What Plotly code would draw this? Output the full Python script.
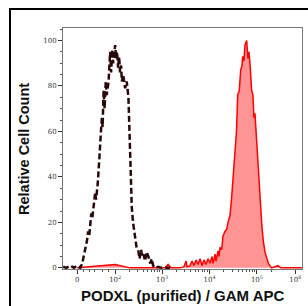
import numpy as np
import plotly.graph_objects as go

# Isotype / negative control histogram (fluorescence intensity, relative count)
ctrl_intensity = [-24, -18, -11, -5, 0, 5, 8, 10, 13, 16, 18, 20, 22, 24, 26, 28, 32, 34, 38, 42,
                  44, 47, 49, 51, 54, 57, 61, 64, 71, 73, 77, 81, 86, 90, 95, 100, 105, 110, 116,
                  122, 128, 135, 140, 149, 165, 178, 194, 200, 210, 215, 221, 228, 243, 268, 289,
                  315, 334, 360, 379, 404, 438, 471, 514, 559, 608, 647, 712, 825, 1001, 1476]
ctrl_count = [0.5, 0, 1, 0, 1, 0, 2, 4.5, 8, 12, 16, 14, 19, 24, 22, 27, 33, 30, 37, 48,
              56, 62, 66, 62, 78, 70, 82, 76, 82, 88, 95, 86, 96, 90, 94, 98, 92, 95, 88,
              93, 86, 89, 82, 85, 79, 82, 75, 62, 56, 45, 37, 27, 20, 13, 9,
              7.5, 4, 8, 5, 6, 3, 7, 5, 2, 4, 1, 0, 0.5, 0, 0]

# PODXL stained histogram
podxl_intensity = [0, 100, 210, 559, 1158, 1339, 1550, 2395, 2909, 3205, 3364, 3890, 4287, 4723,
                   5204, 5735, 6320, 6964, 7673, 8448, 9308, 10257, 11304, 11872, 13085, 13729,
                   15126, 15887, 16661, 18096, 19273, 21240, 23057, 24553, 27053, 29105, 31750,
                   33640, 34480, 37080, 39300, 42480, 45470, 48425, 50080, 53330, 55970, 60800,
                   64770, 67960, 71370, 74880, 77480, 82520, 86580, 90900, 98700, 106700, 110400,
                   115900, 121650, 127700, 136000, 147700, 160300, 174900, 188200, 204500,
                   240000, 277500, 320800, 496600, 887000]
podxl_count = [0, 1.5, 0, 0, 0, 1.5, 0, 0, 0.5, 3, 0.5, 1, 3, 1,
               3.5, 1.5, 4, 1, 3.5, 1.5, 4, 2, 5, 2, 6, 3,
               7.5, 5, 9, 8, 14, 16, 17, 20, 23, 30, 41,
               47, 52, 60, 76, 78, 87, 89, 93, 91, 98, 100,
               92, 95, 90, 84, 78, 76, 66, 68, 55, 47, 40,
               32, 25, 18, 12, 7, 4.5, 2, 1, 0,
               0.5, 1, 0, 0, 0]

x_tick_values = [0, 1e2, 1e3, 1e4, 1e5]
x_tick_labels = ["0", "10<sup>2</sup>", "10<sup>3</sup>", "10<sup>4</sup>", "10<sup>5</sup>", "10<sup>6</sup>"]
y_tick_values = [0, 20, 40, 60, 80, 100]

LINEAR_WIDTH = 32.5


def logicle(v):
    v = np.asarray(v, dtype=float)
    return np.arcsinh(v / LINEAR_WIDTH) / np.log(10)


ticks_pos = list(logicle(x_tick_values)) + [4.6]
minor_pos = []
for d in [1e2, 1e3, 1e4]:
    for m in range(2, 10):
        minor_pos.append(float(logicle(m * d)))
for m in range(2, 3):
    minor_pos.append(float(logicle(m * 1e5)))
minor_pos += [float(logicle(v)) for v in [10, 20, 30, 50, 70]]

fig = go.Figure()
fig.add_trace(go.Scatter(
    x=logicle(podxl_intensity), y=podxl_count, mode="lines",
    line=dict(color="#ff0000", width=1.5), fill="tozeroy",
    fillcolor="rgba(255,0,0,0.42)", hoverinfo="skip"))
fig.add_trace(go.Scatter(
    x=logicle(ctrl_intensity), y=ctrl_count, mode="lines",
    line=dict(color="#2a0808", width=2.5, dash="6px,3px"), hoverinfo="skip"))

tickfont = dict(family="DejaVu Serif", size=7, color="#333")
fig.update_layout(
    width=308, height=306,
    margin=dict(l=63, r=6, t=28, b=37),
    paper_bgcolor="white", plot_bgcolor="white",
    showlegend=False,
    xaxis=dict(range=[-0.3, 4.74], tickmode="array", tickvals=ticks_pos, ticktext=x_tick_labels,
               ticks="outside", ticklen=4, tickcolor="#333", tickfont=tickfont,
               showgrid=False, zeroline=False, showline=True, linecolor="#777", linewidth=1,
               mirror=True,
               minor=dict(tickmode="array", tickvals=minor_pos, ticks="outside", ticklen=2,
                          tickcolor="#555", showgrid=False)),
    yaxis=dict(range=[-0.5, 105.5], tickmode="array", tickvals=y_tick_values,
               ticks="outside", ticklen=4, tickcolor="#333", tickfont=tickfont,
               showgrid=False, zeroline=False, showline=True, linecolor="#777", linewidth=1,
               mirror=True,
               minor=dict(dtick=5, ticks="outside", ticklen=2, tickcolor="#555", showgrid=False)),
)

fig.add_annotation(text="<b>Relative Cell Count</b>", xref="paper", yref="paper",
                   x=(24 - 63) / 239, y=(269 - 149) / 241, textangle=-90, showarrow=False,
                   font=dict(family="Liberation Sans", size=14.5, color="#111"),
                   xanchor="center", yanchor="middle")
fig.add_annotation(text="<b>PODXL (purified) / GAM APC</b>", xref="paper", yref="paper",
                   x=(183 - 63) / 239, y=(269 - 295) / 241, showarrow=False,
                   font=dict(family="Liberation Sans", size=15, color="#111"),
                   xanchor="center", yanchor="middle")

fig.add_shape(type="rect", xref="paper", yref="paper",
              x0=(10 - 63) / 239, x1=(310 - 63) / 239, y0=(269 - 312) / 241, y1=(269 - 9) / 241,
              line=dict(color="black", width=2), fillcolor="rgba(0,0,0,0)")

fig.write_html("out.html", config={"displayModeBar": False, "staticPlot": True},
               post_script="document.body.style.margin='0';document.body.style.overflow='hidden';")
